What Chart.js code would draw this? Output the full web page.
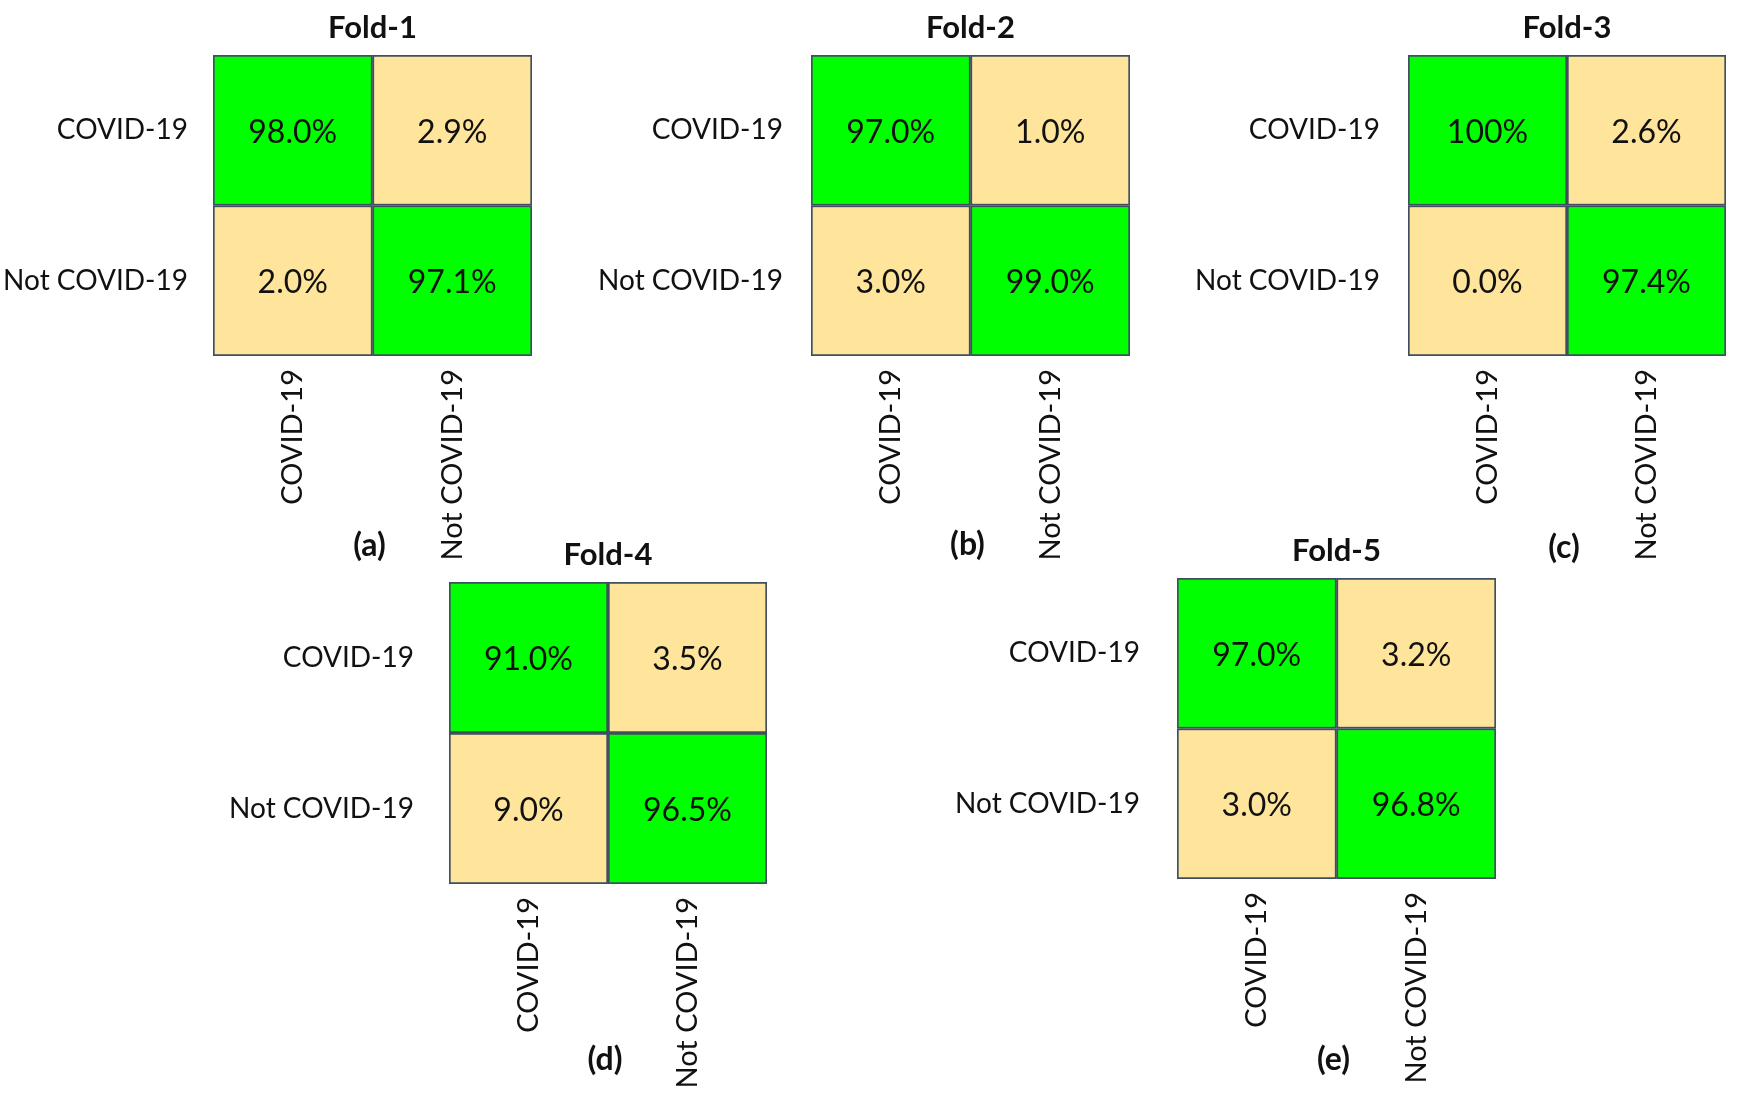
<!DOCTYPE html>
<html>
<head>
<meta charset="utf-8">
<script src="https://cdn.jsdelivr.net/npm/chart.js@4.4.0/dist/chart.umd.min.js"></script>
<style>
    html, body {
        margin: 0;
        padding: 0;
        background: #ffffff;
        width: 1746px;
        height: 1094px;
        overflow: hidden;
    }

    .painel {
        position: absolute;
    }
</style>
</head>
<body>
<div id="figura"></div>

<script>
// rotulos das classes (linhas e colunas)
const classes = ["COVID-19", "Not COVID-19"];

const titulos = ["Fold-1", "Fold-2", "Fold-3", "Fold-4", "Fold-5"];
const letras = ["(a)", "(b)", "(c)", "(d)", "(e)"];

// porcentagens por fold: [linha][coluna]
const fold1 = [[98.0, 2.9], [2.0, 97.1]];
const fold2 = [[97.0, 1.0], [3.0, 99.0]];
const fold3 = [[100, 2.6], [0.0, 97.4]];
const fold4 = [[91.0, 3.5], [9.0, 96.5]];
const fold5 = [[97.0, 3.2], [3.0, 96.8]];

const folds = [fold1, fold2, fold3, fold4, fold5];

// posicao de cada matriz na pagina (esquerda, topo, largura, altura, distancia da letra, recuo dos rotulos)
const posicoes = [
    { x: 213, y: 55, w: 319, h: 301, letra: 190, recuo: 17 },
    { x: 811, y: 55, w: 319, h: 301, letra: 189, recuo: 20 },
    { x: 1408, y: 55, w: 318, h: 301, letra: 192, recuo: 20 },
    { x: 449, y: 582, w: 318, h: 302, letra: 176, recuo: 27 },
    { x: 1177, y: 578, w: 319, h: 301, letra: 181, recuo: 29 },
];

const verde = "#00ff00";
const bege = "#ffe59b";
const borda = "#3e4f5f";
const fonte = "Lato, 'Open Sans', sans-serif";

const larguraEixoY = 240;
const margemTopo = 70;
const alturaEixoX = 230;

function formatar(v) {
    if (v == 100) {
        return "100%";
    }
    return v.toFixed(1) + "%";
}

const textoPlugin = {
    id: "textoPlugin",
    afterDatasetsDraw(chart, args, opts) {
        const ctx = chart.ctx;
        const area = chart.chartArea;

        ctx.save();
        ctx.fillStyle = "#111111";
        ctx.textAlign = "center";
        ctx.textBaseline = "middle";
        ctx.font = `32px ${fonte}`;

        for (let d = 0; d < chart.data.datasets.length; d++) {
            const meta = chart.getDatasetMeta(d);
            const valores = chart.data.datasets[d].valores;

            for (let i = 0; i < meta.data.length; i++) {
                const centro = meta.data[i].getCenterPoint();
                ctx.fillText(formatar(valores[i]), centro.x, centro.y + 2);
            }
        }

        const meio = (area.left + area.right) / 2;

        ctx.font = `bold 31px ${fonte}`;
        ctx.fillText(opts.titulo, meio, area.top - 27);
        ctx.font = `bold 32px ${fonte}`;
        ctx.fillText(opts.letra, meio - 3, area.bottom + opts.distLetra);
        ctx.restore();
    }
};

function criarMatriz(i) {
    const pos = posicoes[i];
    const dados = folds[i];

    const canvas = document.createElement("canvas");
    const largura = pos.w + larguraEixoY + 20;
    const altura = pos.h + margemTopo + alturaEixoX;

    canvas.className = "painel";
    canvas.width = largura;
    canvas.height = altura;
    canvas.style.left = (pos.x - larguraEixoY) + "px";
    canvas.style.top = (pos.y - margemTopo) + "px";
    canvas.style.width = largura + "px";
    canvas.style.height = altura + "px";
    document.getElementById("figura").appendChild(canvas);

    // cada linha vira um conjunto de barras flutuantes
    const datasets = [];
    for (let r = 0; r < classes.length; r++) {
        const faixa = [classes.length - r - 1, classes.length - r];
        datasets.push({
            label: classes[r],
            data: classes.map(() => faixa),
            valores: dados[r],
            backgroundColor: classes.map((c, col) => col == r ? verde : bege),
            borderColor: borda,
            borderWidth: 2,
            borderSkipped: false,
            barPercentage: 1,
            categoryPercentage: 1,
            grouped: false,
        });
    }

    new Chart(canvas, {
        type: "bar",
        data: {
            labels: classes,
            datasets: datasets
        },
        plugins: [textoPlugin],
        options: {
            responsive: false,
            animation: false,
            devicePixelRatio: 1,
            layout: {
                padding: { top: margemTopo, right: 20, left: 0, bottom: 0 }
            },
            scales: {
                x: {
                    grid: { display: false },
                    border: { display: false },
                    ticks: {
                        minRotation: 90,
                        maxRotation: 90,
                        padding: 5,
                        color: "#111111",
                        font: { family: fonte, size: 29 }
                    },
                    afterFit: (scale) => { scale.height = alturaEixoX; }
                },
                y: {
                    min: 0,
                    max: classes.length,
                    grid: { display: false },
                    border: { display: false },
                    afterBuildTicks: (scale) => {
                        scale.ticks = classes.map((c, r) => ({ value: classes.length - r - 0.5 }));
                    },
                    ticks: {
                        padding: pos.recuo,
                        color: "#111111",
                        font: { family: fonte, size: 28 },
                        callback: (v) => classes[classes.length - Math.ceil(v)]
                    },
                    afterFit: (scale) => { scale.width = larguraEixoY; }
                }
            },
            plugins: {
                legend: { display: false },
                tooltip: { enabled: false },
                textoPlugin: {
                    titulo: titulos[i],
                    letra: letras[i],
                    distLetra: pos.letra
                }
            }
        }
    });
}

for (let i = 0; i < folds.length; i++) {
    criarMatriz(i);
}
</script>
</body>
</html>
